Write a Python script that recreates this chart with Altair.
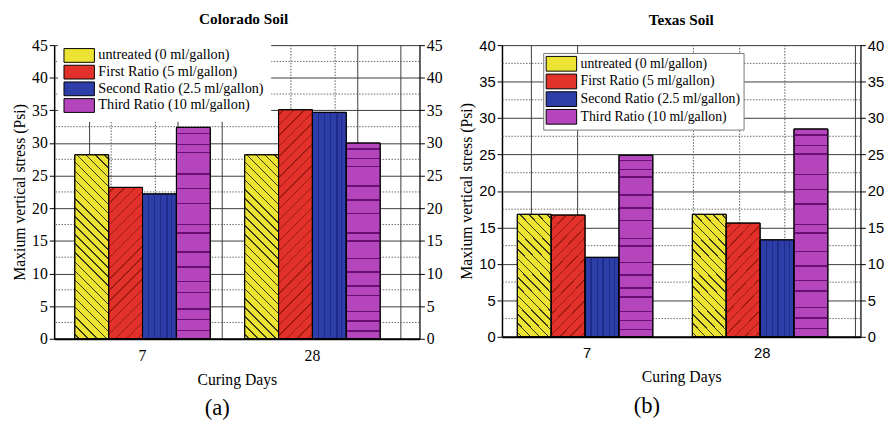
import math
import altair as alt
import pandas as pd

# ---------------- data ----------------
days = ["7", "28"]
series = ["untreated (0 ml/gallon)", "First Ratio (5 ml/gallon)",
          "Second Ratio (2.5 ml/gallon)", "Third Ratio (10 ml/gallon)"]
colorado_day7 = [28.2, 23.2, 22.2, 32.4]
colorado_day28 = [28.2, 35.1, 34.7, 30.0]
texas_day7 = [16.8, 16.7, 10.9, 24.9]
texas_day28 = [16.8, 15.6, 13.3, 28.5]
colorado_ticks = [0, 5, 10, 15, 20, 25, 30, 35, 40, 45]
texas_ticks = [0, 5, 10, 15, 20, 25, 30, 35, 40]

# ---------------- style ----------------
bar_colors = ["#ECE332", "#E2312B", "#2D3EA8", "#B445BC"]
hatch_colors = ["#3a3a18", "#9c1b13", "#1f2c8c", "#6a0e74"]
SERIF = "'Liberation Serif', 'Times New Roman', 'DejaVu Serif', serif"
SANS = "'Liberation Sans', Arial, 'DejaVu Sans', sans-serif"
CLEAR = "rgba(0,0,0,0)"
MAGENTA_LINES = [0.03, 0.08, 0.12, 0.22, 0.29, 0.36, 0.46, 0.50, 0.59,
                 0.66, 0.73, 0.78, 0.86, 0.91, 0.96]
BLUE_LINES = [0.18, 0.36, 0.53, 0.72, 0.86]


def rect_path(h, w=31.0):
    hw = w / h
    return f"M-{hw:.3f},-1H{hw:.3f}V1H-{hw:.3f}Z"


def make_frame(v7, v28):
    rows = []
    for d, vals in ((days[0], v7), (days[1], v28)):
        for s, v in zip(series, vals):
            rows.append({"day": d, "series": s, "value": v})
    return pd.DataFrame(rows)


def stop_list(centres, thick, line):
    out = [(0.0, CLEAR)]
    for c in sorted(centres):
        a = max(0.0, c - thick / 2)
        b = min(1.0, c + thick / 2)
        out += [(a, CLEAR), (a, line), (b, line), (b, CLEAR)]
    out.append((1.0, CLEAR))
    return [alt.GradientStop(offset=round(o, 5), color=col) for o, col in out]


def hatch(k, w, h):
    line = hatch_colors[k]
    if k in (0, 1):
        r = h / w
        a = (1 + r) / (1 + r * r)
        extent = (w + h) / math.sqrt(2)
        n = max(1, int(extent / (6.3 if k == 0 else 7.5)))
        centres = [(i + 0.5) / n for i in range(n)]
        if k == 0:
            x1, y1, x2, y2 = 0, 1, a, 1 - a * r
        else:
            x1, y1, x2, y2 = 0, 0, a, a * r
        return alt.Gradient(gradient="linear", x1=x1, y1=y1, x2=x2, y2=y2,
                            stops=stop_list(centres, (1.1 if k == 0 else 1.0) / extent, line))
    if k == 2:
        return alt.Gradient(gradient="linear", x1=0, y1=0, x2=1, y2=0,
                            stops=stop_list(BLUE_LINES, 1.4 / w, line))
    return alt.Gradient(gradient="linear", x1=0, y1=0, x2=0, y2=1,
                        stops=stop_list(MAGENTA_LINES, 1.5 / h, line))


def panel(v7, v28, title, title_dx, tag, tag_dx, ticks, W, H, p_in, p_out, p_align,
          tick_font, tick_size, legend_x, legend_y, legend_pad, legend_stroke,
          sym_h, row_pad, lab_size, grid_solid, grid_dotted):
    ymax = ticks[-1]
    df = make_frame(v7, v28)
    xscale = alt.Scale(domain=days, paddingInner=p_in, paddingOuter=p_out, align=p_align)
    oscale = alt.Scale(domain=series, paddingInner=0, paddingOuter=0)
    yscale = alt.Scale(domain=[0, ymax], nice=False, zero=True)
    pscale = alt.Scale(domain=[0, 1], nice=False, zero=False)
    step = W / (len(days) - p_in + 2 * p_out)
    barw = step * (1 - p_in) / len(series)

    # legend symbol geometry (31 px wide rectangles, label 4 px after them)
    col = max(math.ceil(sym_h + 1), lab_size)
    sym_off = 15.5 - col / 2
    lab_off = 35 - col - sym_off

    vsolid = alt.Chart(pd.DataFrame({"p": grid_solid})).mark_rule(
        color="#3a3a3a", strokeWidth=1).encode(
        x=alt.X("p:Q", scale=pscale, axis=None))
    vdot = alt.Chart(pd.DataFrame({"p": grid_dotted})).mark_rule(
        color="#555555", strokeWidth=1, strokeDash=[1.5, 1.5]).encode(
        x=alt.X("p:Q", scale=pscale, axis=None))
    minor = alt.Chart(pd.DataFrame({"m": [t + 2.5 for t in ticks[:-1]]})).mark_rule(
        color="#666666", strokeWidth=1, strokeDash=[1.5, 1.5]).encode(
        y=alt.Y("m:Q", scale=yscale, axis=None))

    left_axis = alt.Axis(
        orient="left", values=ticks, title="Maxium vertical stress (Psi)",
        titleFont=SERIF, titleFontSize=16, titleFontWeight="normal", titleColor="black",
        titlePadding=4, labelFont=tick_font, labelFontSize=tick_size, labelColor="black",
        labelPadding=2, tickSize=5, tickColor="black", domainColor="black",
        domainWidth=1.5, grid=True, gridColor="#3a3a3a", gridWidth=1)
    right_axis = alt.Axis(
        orient="right", values=ticks, title=None,
        labelFont=tick_font, labelFontSize=tick_size, labelColor="black",
        labelPadding=2, tickSize=5, tickColor="black", domainColor="black",
        domainWidth=1.2, grid=False)
    x_axis = alt.Axis(
        title="Curing Days", titleFont=SERIF, titleFontSize=16, titleFontWeight="normal",
        titleColor="black", titlePadding=9, labelFont=tick_font, labelFontSize=tick_size,
        labelColor="black", labelAngle=0, labelPadding=9, ticks=False,
        domainColor="black", domainWidth=2, grid=False, zindex=1)

    legend = alt.Legend(
        title=None, orient="none", legendX=legend_x, legendY=legend_y,
        fillColor="white", strokeColor=legend_stroke, padding=legend_pad,
        symbolType=rect_path(sym_h), symbolSize=sym_h * sym_h, symbolStrokeColor="black",
        symbolStrokeWidth=1, symbolOpacity=1, symbolOffset=sym_off,
        labelFont=SERIF, labelFontSize=lab_size, labelColor="black", labelOffset=lab_off,
        labelLimit=400, rowPadding=row_pad)

    bars = alt.Chart(df).mark_bar(stroke="black", strokeWidth=1, opacity=1).encode(
        x=alt.X("day:N", sort=days, scale=xscale, axis=x_axis),
        xOffset=alt.XOffset("series:N", sort=series, scale=oscale),
        y=alt.Y("value:Q", scale=yscale, axis=left_axis),
        color=alt.Color("series:N", sort=series,
                        scale=alt.Scale(domain=series, range=bar_colors), legend=legend),
    )

    overlays = []
    for d, vals in ((days[0], v7), (days[1], v28)):
        for k, (s, v) in enumerate(zip(series, vals)):
            h = v / ymax * H
            overlays.append(
                alt.Chart(df).transform_filter(
                    (alt.datum.day == d) & (alt.datum.series == s)
                ).mark_bar(fill=hatch(k, barw, h), stroke="black", strokeWidth=1).encode(
                    x=alt.X("day:N", sort=days, scale=xscale, axis=None),
                    xOffset=alt.XOffset("series:N", sort=series, scale=oscale),
                    y=alt.Y("value:Q", scale=yscale, axis=None),
                )
            )

    right = alt.Chart(df).mark_point(opacity=0).encode(
        y=alt.Y("value:Q", scale=yscale, axis=right_axis))

    label = alt.Chart(pd.DataFrame({"t": [tag]})).mark_text(
        font=SERIF, fontSize=23, color="black", baseline="middle", align="center").encode(
        text="t:N", x=alt.value(W / 2 + tag_dx), y=alt.value(H + 71))

    return alt.layer(vsolid, vdot, minor, bars, *overlays, right, label).resolve_scale(
        x="independent", y="shared").resolve_axis(y="independent").properties(
        width=W, height=H,
        title=alt.TitleParams(title, font=SERIF, fontSize=15.5, fontWeight="bold",
                              color="black", anchor="middle", offset=10, dx=title_dx))


left = panel(colorado_day7, colorado_day28, "Colorado Soil", 7, "(a)", -20, colorado_ticks,
             372, 299, 0.2023, 0.1763, 0.344, SERIF, 16,
             4, -3, 6, "white", 14, -8, 14.5,
             [0.097, 0.339, 0.46, 0.831, 0.949], [0.156, 0.277, 0.648, 0.769])
right = panel(texas_day7, texas_day28, "Texas Soil", 0, "(b)", -35, texas_ticks,
              365, 297, 0.202, 0.125, 0.35, SANS, 15,
              42, 8, 3, "#777777", 15, -8, 14,
              [0.082, 0.211, 0.986], [0.534, 0.663, 0.789])

chart = alt.hconcat(left, right, spacing=15).resolve_scale(
    color="independent").resolve_legend(color="independent").configure_view(
    stroke="black", strokeWidth=1).configure(background="white").properties(
    padding={"left": 3, "top": 0, "right": 0, "bottom": 0})

chart.save("out.html", embed_options={"renderer": "svg", "actions": False})
